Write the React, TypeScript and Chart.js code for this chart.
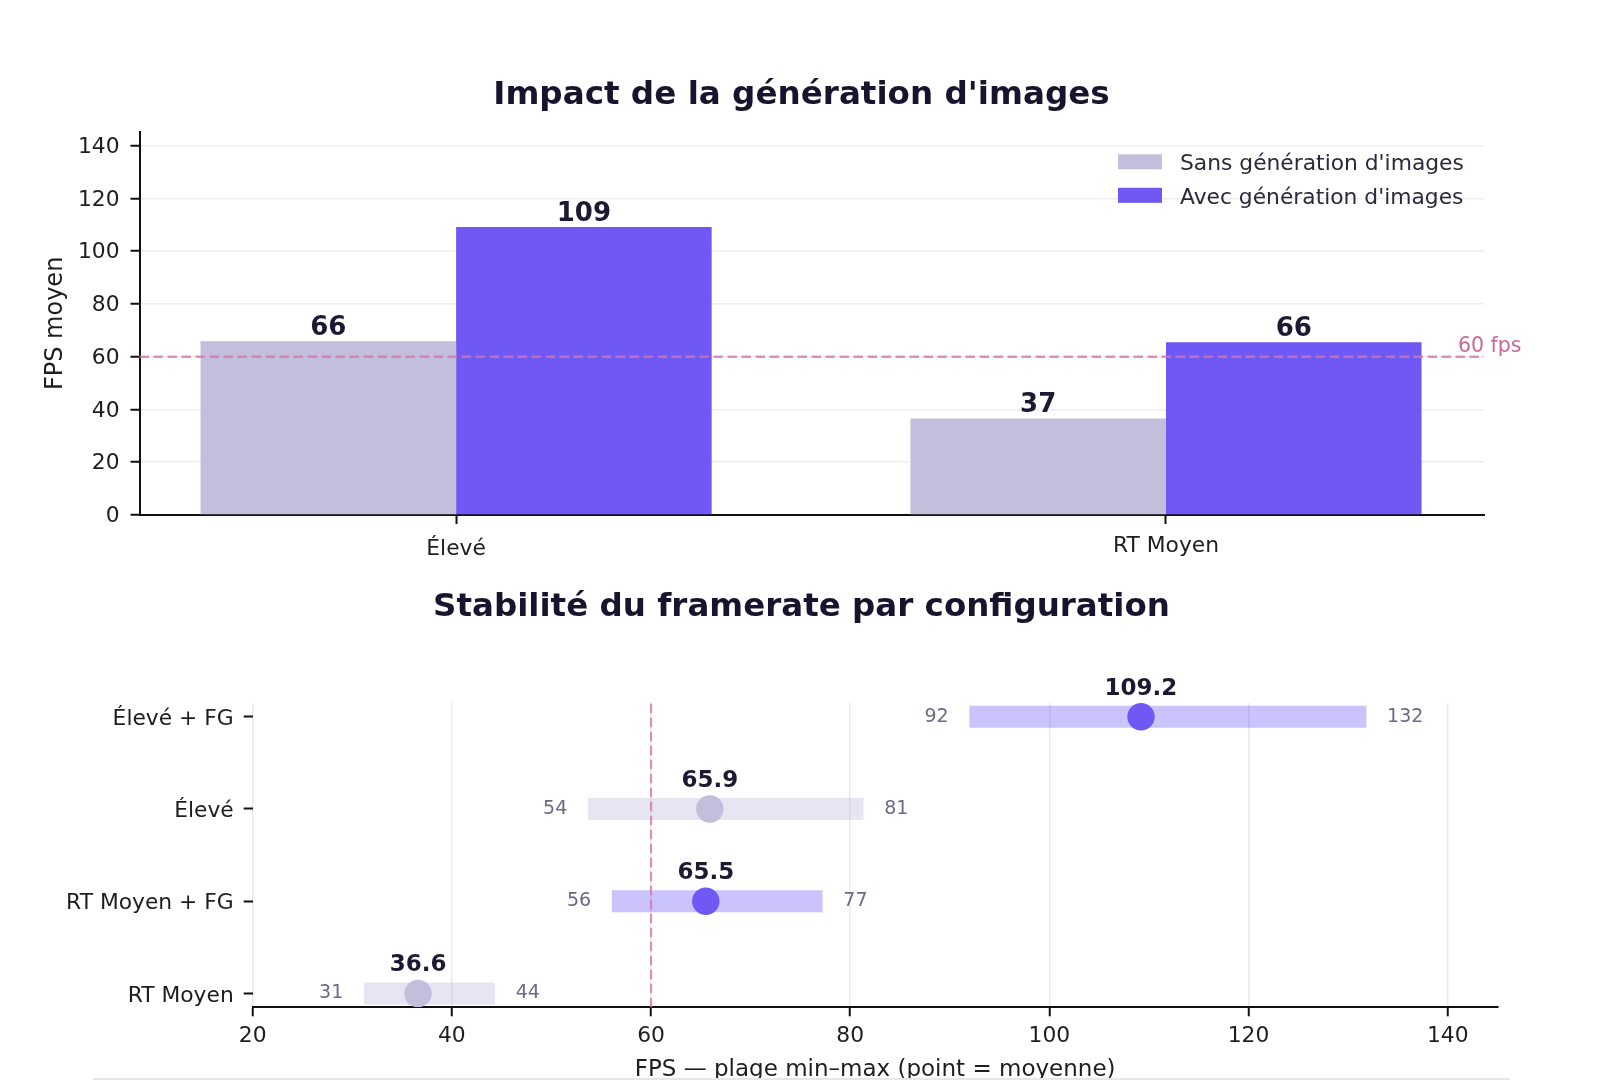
import React, { useEffect, useRef } from "react";
import { Chart, registerables } from "chart.js";

Chart.register(...registerables);

// ---------------- data ----------------
const categories = ["Élevé", "RT Moyen"];
const fpsSans = [65.9, 36.6];
const fpsAvec = [109.2, 65.5];
const seriesNames = ["Sans génération d'images", "Avec génération d'images"];
const topYTicks = [0, 20, 40, 60, 80, 100, 120, 140];
const targetFps = 60;
const targetLabel = "60 fps";

const configs = ["Élevé + FG", "Élevé", "RT Moyen + FG", "RT Moyen"];
const fpsMin = [92.0, 53.7, 56.1, 31.2];
const fpsMax = [131.8, 81.3, 77.2, 44.3];
const fpsMean = [109.2, 65.9, 65.5, 36.6];
const hasFG = [true, false, true, false];
const bottomXTicks = [20, 40, 60, 80, 100, 120, 140];

const topTitle = "Impact de la génération d'images";
const topYLabel = "FPS moyen";
const bottomTitle = "Stabilité du framerate par configuration";
const bottomXLabel = "FPS — plage min–max (point = moyenne)";

// ---------------- style ----------------
const FONT = "'DejaVu Sans', 'Liberation Sans', sans-serif";
const PURPLE = "#6f58f4";
const LAVENDER = "#c3bedb";
const PURPLE_A = "rgba(111, 88, 244, 0.36)";
const LAVENDER_A = "rgba(195, 190, 219, 0.4)";
const TITLE_COLOR = "#17152d";
const VALUE_COLOR = "#1c1a33";
const TICK_COLOR = "#1e1e1e";
const AXIS_COLOR = "#111111";
const PINK_LINE = "rgba(214, 118, 165, 0.78)";
const PINK_TEXT = "#c9689b";
const RANGE_TEXT = "#6c6a8a";
const TICK_SIZE = 21.8;

// ---------------- top chart ----------------
const topDecor = {
  id: "topDecor",
  afterDatasetsDraw(chart: any) {
    const { ctx, chartArea, scales } = chart;
    const y = scales.y;
    ctx.save();
    // 60 fps reference line
    const y60 = y.getPixelForValue(targetFps);
    ctx.strokeStyle = PINK_LINE;
    ctx.lineWidth = 2.4;
    ctx.setLineDash([9.5, 4.5]);
    ctx.beginPath();
    ctx.moveTo(chartArea.left, y60);
    ctx.lineTo(chartArea.right, y60);
    ctx.stroke();
    ctx.setLineDash([]);
    ctx.fillStyle = PINK_TEXT;
    ctx.font = `20.5px ${FONT}`;
    ctx.textAlign = "left";
    ctx.textBaseline = "alphabetic";
    ctx.fillText(targetLabel, chartArea.right - 26, y60 - 4.4);

    // value labels
    ctx.fillStyle = VALUE_COLOR;
    ctx.font = `bold 26px ${FONT}`;
    ctx.textAlign = "center";
    chart.data.datasets.forEach((ds: any, di: number) => {
      const meta = chart.getDatasetMeta(di);
      meta.data.forEach((el: any, i: number) => {
        const v = ds.data[i].y;
        ctx.fillText(String(Math.round(v)), el.x, el.y - 6);
      });
    });

    // title
    ctx.fillStyle = TITLE_COLOR;
    ctx.font = `bold 32.6px ${FONT}`;
    ctx.textAlign = "center";
    ctx.fillText(topTitle, chart.width / 2, 104);

    // y axis label
    ctx.save();
    ctx.translate(61.5, (chartArea.top + chartArea.bottom) / 2);
    ctx.rotate(-Math.PI / 2);
    ctx.fillStyle = TICK_COLOR;
    ctx.font = `24px ${FONT}`;
    ctx.textAlign = "center";
    ctx.fillText(topYLabel, 0, 0);
    ctx.restore();

    // legend
    ctx.font = `${TICK_SIZE}px ${FONT}`;
    ctx.textAlign = "left";
    chart.data.datasets.forEach((ds: any, di: number) => {
      const top = 154.3 + di * 33.5;
      ctx.fillStyle = ds.backgroundColor;
      ctx.fillRect(1118, top, 44, 15);
      ctx.fillStyle = "#2a2a3c";
      ctx.fillText(ds.label, 1180, top + 15.7);
    });
    ctx.restore();
  },
};

function topConfig(): any {
  return {
    type: "bar",
    data: {
      datasets: [
        {
          label: seriesNames[0],
          data: categories.map((_, i) => ({ x: i, y: fpsSans[i] })),
          backgroundColor: LAVENDER,
        },
        {
          label: seriesNames[1],
          data: categories.map((_, i) => ({ x: i, y: fpsAvec[i] })),
          backgroundColor: PURPLE,
        },
      ],
    },
    options: {
      animation: false,
      responsive: false,
      events: [],
      layout: { padding: { top: 131.7, right: 119, left: 0, bottom: 0 } },
      datasets: { bar: { categoryPercentage: 0.72, barPercentage: 1 } },
      scales: {
        x: {
          type: "linear",
          position: "bottom",
          min: -0.446,
          max: 1.448,
          offset: false,
          afterBuildTicks: (s: any) => {
            s.ticks = categories.map((_, i) => ({ value: i }));
          },
          afterFit: (s: any) => {
            s.height = 65;
          },
          ticks: {
            callback: (v: any) => categories[v] ?? "",
            // labels are top-aligned like the original: an accented capital pushes the text down a bit
            font: (c: any) => {
              const lbl = categories[c.tick ? c.tick.value : c.index] || "";
              return { family: FONT, size: TICK_SIZE, lineHeight: /[ÉÈÀÂ]/.test(lbl) ? 1.5 : 1.2 };
            },
            color: TICK_COLOR,
            padding: 9,
            maxRotation: 0,
            autoSkip: false,
          },
          grid: { drawOnChartArea: false, offset: false, tickLength: 9, tickColor: AXIS_COLOR, tickWidth: 2 },
          border: { color: AXIS_COLOR, width: 2 },
        },
        y: {
          type: "linear",
          position: "left",
          min: 0,
          max: 145.3,
          afterBuildTicks: (s: any) => {
            s.ticks = topYTicks.map((v) => ({ value: v }));
          },
          afterFit: (s: any) => {
            s.width = 139.5;
          },
          ticks: {
            font: { family: FONT, size: TICK_SIZE },
            color: TICK_COLOR,
            padding: 11,
            labelOffset: 1.5,
          },
          grid: { color: "#ededf4", lineWidth: 1.5, tickLength: 9, tickColor: AXIS_COLOR, tickWidth: 2 },
          border: { color: AXIS_COLOR, width: 2 },
        },
      },
      plugins: { legend: { display: false }, tooltip: { enabled: false }, title: { display: false } },
    },
    plugins: [topDecor],
  };
}

// ---------------- bottom chart ----------------
const bottomDecor = {
  id: "bottomDecor",
  afterDatasetsDraw(chart: any) {
    const { ctx, chartArea, scales } = chart;
    const x = scales.x;
    const y = scales.y;
    ctx.save();
    // 60 fps vertical line
    const x60 = x.getPixelForValue(targetFps);
    ctx.strokeStyle = PINK_LINE;
    ctx.lineWidth = 2.2;
    ctx.setLineDash([9.5, 4.5]);
    ctx.beginPath();
    ctx.moveTo(x60, chartArea.bottom);
    ctx.lineTo(x60, chartArea.top);
    ctx.stroke();
    ctx.setLineDash([]);

    ctx.textBaseline = "alphabetic";
    configs.forEach((_, i) => {
      const py = y.getPixelForValue(i);
      // mean label
      ctx.fillStyle = VALUE_COLOR;
      ctx.font = `bold 23px ${FONT}`;
      ctx.textAlign = "center";
      ctx.fillText(fpsMean[i].toFixed(1), x.getPixelForValue(fpsMean[i]), py - 22);
      // min / max labels
      ctx.fillStyle = RANGE_TEXT;
      ctx.font = `19px ${FONT}`;
      ctx.textAlign = "right";
      ctx.fillText(fpsMin[i].toFixed(0), x.getPixelForValue(fpsMin[i]) - 21, py + 5);
      ctx.textAlign = "left";
      ctx.fillText(fpsMax[i].toFixed(0), x.getPixelForValue(fpsMax[i]) + 21, py + 5);
    });

    // title
    ctx.fillStyle = TITLE_COLOR;
    ctx.font = `bold 32.5px ${FONT}`;
    ctx.textAlign = "center";
    ctx.fillText(bottomTitle, chart.width / 2, 36);

    // x axis title
    ctx.fillStyle = TICK_COLOR;
    ctx.font = `23px ${FONT}`;
    ctx.fillText(bottomXLabel, (chartArea.left + chartArea.right) / 2, 496);
    ctx.restore();
  },
};

function bottomConfig(): any {
  return {
    type: "bar",
    data: {
      datasets: [
        {
          type: "scatter",
          label: "moyenne",
          data: configs.map((_, i) => ({ x: fpsMean[i], y: i })),
          pointRadius: 13.7,
          pointHoverRadius: 13.7,
          pointBorderWidth: 0,
          pointBackgroundColor: hasFG.map((f) => (f ? PURPLE : LAVENDER)),
          order: 0,
        },
        {
          type: "bar",
          label: "plage min–max",
          indexAxis: "y",
          data: configs.map((_, i) => ({ y: i, x: [fpsMin[i], fpsMax[i]] })),
          backgroundColor: hasFG.map((f) => (f ? PURPLE_A : LAVENDER_A)),
          barThickness: 21.5,
          order: 1,
        },
      ],
    },
    options: {
      indexAxis: "y",
      animation: false,
      responsive: false,
      events: [],
      layout: { padding: { top: 122.9, right: 105.5, left: 0, bottom: 0 } },
      scales: {
        x: {
          type: "linear",
          position: "bottom",
          min: 20,
          max: 145,
          offset: false,
          afterBuildTicks: (s: any) => {
            s.ticks = bottomXTicks.map((v) => ({ value: v }));
          },
          afterFit: (s: any) => {
            s.height = 72.7;
          },
          ticks: {
            font: { family: FONT, size: TICK_SIZE },
            color: TICK_COLOR,
            padding: 7,
            maxRotation: 0,
            autoSkip: false,
          },
          grid: { color: "#e8e8f1", lineWidth: 1.5, offset: false, tickLength: 9, tickColor: AXIS_COLOR, tickWidth: 2 },
          border: { color: AXIS_COLOR, width: 2 },
        },
        y: {
          type: "linear",
          position: "left",
          min: -0.15,
          max: 3.15,
          reverse: true,
          offset: false,
          afterBuildTicks: (s: any) => {
            s.ticks = configs.map((_, i) => ({ value: i }));
          },
          afterFit: (s: any) => {
            s.width = 252.7;
          },
          ticks: {
            callback: (v: any) => configs[v] ?? "",
            font: { family: FONT, size: TICK_SIZE },
            color: TICK_COLOR,
            padding: 10,
            labelOffset: 2.5,
            autoSkip: false,
          },
          grid: { drawOnChartArea: false, offset: false, tickLength: 9, tickColor: AXIS_COLOR, tickWidth: 2 },
          border: { display: false },
        },
      },
      plugins: { legend: { display: false }, tooltip: { enabled: false }, title: { display: false } },
    },
    plugins: [bottomDecor],
  };
}

export default function App() {
  const topRef = useRef<HTMLCanvasElement>(null);
  const botRef = useRef<HTMLCanvasElement>(null);

  useEffect(() => {
    const c1 = new Chart(topRef.current as HTMLCanvasElement, topConfig());
    const c2 = new Chart(botRef.current as HTMLCanvasElement, bottomConfig());
    return () => {
      c1.destroy();
      c2.destroy();
    };
  }, []);

  return (
    <div
      style={{
        position: "absolute",
        left: 0,
        top: 0,
        width: 1603,
        height: 1080,
        background: "#ffffff",
        overflow: "hidden",
      }}
    >
      <canvas
        ref={topRef}
        width={1603}
        height={580}
        style={{ position: "absolute", left: 0, top: 0, width: 1603, height: 580 }}
      />
      <canvas
        ref={botRef}
        width={1603}
        height={500}
        style={{ position: "absolute", left: 0, top: 580, width: 1603, height: 500 }}
      />
      <div
        style={{
          position: "absolute",
          left: 93,
          top: 1078,
          width: 1417,
          height: 1.5,
          background: "#e6e6ec",
        }}
      />
    </div>
  );
}
